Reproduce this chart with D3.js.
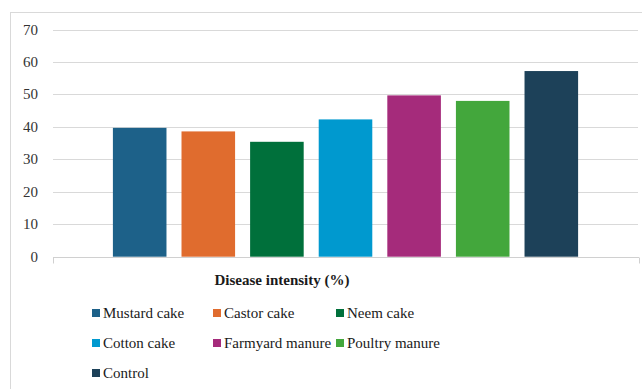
<!DOCTYPE html>
<html>
<head>
<script src="https://cdn.jsdelivr.net/npm/d3@7"></script>
</head>
<body style="margin:0">
<script>
var category = ["Disease intensity (%)"];
var series = ["Mustard cake","Castor cake","Neem cake","Cotton cake","Farmyard manure","Poultry manure","Control"];
var values = [39.7, 38.6, 35.4, 42.3, 49.7, 48.0, 57.2];
var colors = ["#1d6189","#e06c2e","#00703b","#0099cf","#a52b7b","#43a73c","#1d4159"];
var yTicks = [0,10,20,30,40,50,60,70];

var width = 642,
	height = 389;

var svg = d3.select("body")
	.append("svg")
	.attr("width",width)
	.attr("height",height)

// outer frame
svg.append("rect")
	.attr("x",10.5).attr("y",12.5)
	.attr("width",640).attr("height",400)
	.attr("fill","none")
	.attr("stroke","#d9d9d9")

var left = 53, right = 638, plotTop = 29.5, bottom = 256.7;

var y = d3.scaleLinear()
	.domain([0,70])
	.range([bottom,plotTop])

var x0 = d3.scaleBand()
	.domain(category)
	.range([left,right])
	.paddingInner(0)
	.paddingOuter(0.109)

var x1 = d3.scaleBand()
	.domain(series)
	.range([0,x0.bandwidth()])
	.paddingInner(0.219)
	.paddingOuter(0.11)

var color = d3.scaleOrdinal()
	.domain(series)
	.range(colors)

// gridlines
svg.selectAll(".grid")
	.data(yTicks.filter(function(d){ return d>0; }))
	.enter().append("line")
	.attr("class","grid")
	.attr("x1",left).attr("x2",right)
	.attr("y1",function(d){ return Math.round(y(d))+0.5; })
	.attr("y2",function(d){ return Math.round(y(d))+0.5; })
	.attr("stroke","#d9d9d9")

// y labels
svg.selectAll(".ylab")
	.data(yTicks)
	.enter().append("text")
	.attr("class","ylab")
	.attr("x",left-15)
	.attr("y",function(d){ return y(d)+5; })
	.attr("text-anchor","end")
	.style("font-family","Liberation Serif")
	.style("font-size","15px")
	.attr("fill","#333")
	.text(function(d){ return d; })

var rows = series.map(function(s,i){ return {name:s, value:values[i]}; });

svg.selectAll(".bar")
	.data(rows)
	.enter().append("rect")
	.attr("class","bar")
	.attr("x",function(d){ return x0(category[0]) + x1(d.name); })
	.attr("y",function(d){ return y(d.value); })
	.attr("width",x1.bandwidth())
	.attr("height",function(d){ return y(0) - y(d.value); })
	.attr("fill",function(d){ return color(d.name); })

// category axis
var zy = Math.round(y(0))+0.5;
svg.append("line")
	.attr("x1",left).attr("x2",right+1)
	.attr("y1",zy).attr("y2",zy)
	.attr("stroke","#d0d0d0")
svg.selectAll(".ctick")
	.data([left,right+1])
	.enter().append("line")
	.attr("x1",function(d){ return d+0.5; }).attr("x2",function(d){ return d+0.5; })
	.attr("y1",zy).attr("y2",zy+6)
	.attr("stroke","#d0d0d0")

svg.append("text")
	.attr("x",282)
	.attr("y",285)
	.attr("text-anchor","middle")
	.style("font-family","Liberation Serif")
	.style("font-size","15px")
	.style("font-weight","bold")
	.attr("fill","#1a1a1a")
	.text(category[0])

// legend
var colX = [92,213,336];
var legend = svg.selectAll(".legend")
	.data(series)
	.enter().append("g")
	.attr("class","legend")
	.attr("transform",function(d,i){
		return "translate(" + colX[i%3] + "," + (313 + Math.floor(i/3)*30) + ")";
	})
legend.append("rect")
	.attr("x",0).attr("y",-4)
	.attr("width",8).attr("height",8)
	.attr("fill",function(d){ return color(d); })
legend.append("text")
	.attr("x",11)
	.attr("y",5)
	.style("font-family","Liberation Serif")
	.style("font-size","15px")
	.attr("fill","#1a1a1a")
	.text(function(d){ return d; })
</script>
</body>
</html>
